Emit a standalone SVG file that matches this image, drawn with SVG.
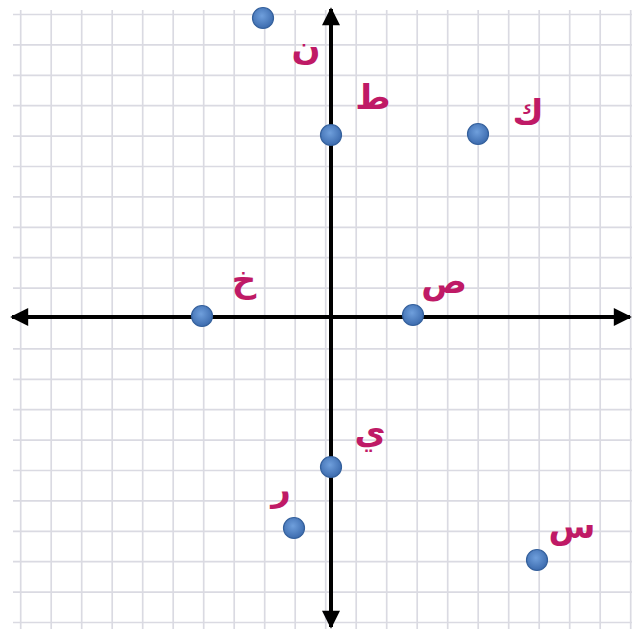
<svg xmlns="http://www.w3.org/2000/svg" width="632" height="629" viewBox="0 0 632 629">
<defs>
<style>
.grid line{stroke:#dadae2;stroke-width:1.7}
.axis{stroke:#000;stroke-width:4;fill:none}
.pt{fill:url(#pg);stroke:#34609c;stroke-width:1.2}
.lbl{font-family:"DejaVu Sans",sans-serif;font-weight:bold;font-size:34px;fill:#bf1a66;text-anchor:middle}
</style>
<radialGradient id="pg" cx="0.45" cy="0.4" r="0.6">
<stop offset="0" stop-color="#6f9fdc"/>
<stop offset="1" stop-color="#3c6bae"/>
</radialGradient>
<marker id="ah" viewBox="0 0 10 10" refX="9" refY="5" markerWidth="5" markerHeight="4.5" markerUnits="strokeWidth" orient="auto-start-reverse">
<path d="M0,0 L10,5 L0,10 Z" fill="#000"/>
</marker>
</defs>
<rect width="632" height="629" fill="#fff"/>
<g class="grid">
<line x1="20.7" y1="10" x2="20.7" y2="629"/><line x1="51.2" y1="10" x2="51.2" y2="629"/><line x1="81.7" y1="10" x2="81.7" y2="629"/><line x1="112.2" y1="10" x2="112.2" y2="629"/><line x1="142.7" y1="10" x2="142.7" y2="629"/><line x1="173.2" y1="10" x2="173.2" y2="629"/><line x1="203.7" y1="10" x2="203.7" y2="629"/><line x1="234.2" y1="10" x2="234.2" y2="629"/><line x1="264.7" y1="10" x2="264.7" y2="629"/><line x1="295.2" y1="10" x2="295.2" y2="629"/><line x1="325.7" y1="10" x2="325.7" y2="629"/><line x1="356.2" y1="10" x2="356.2" y2="629"/><line x1="386.7" y1="10" x2="386.7" y2="629"/><line x1="417.2" y1="10" x2="417.2" y2="629"/><line x1="447.7" y1="10" x2="447.7" y2="629"/><line x1="478.2" y1="10" x2="478.2" y2="629"/><line x1="508.7" y1="10" x2="508.7" y2="629"/><line x1="539.2" y1="10" x2="539.2" y2="629"/><line x1="569.7" y1="10" x2="569.7" y2="629"/><line x1="600.2" y1="10" x2="600.2" y2="629"/><line x1="630.7" y1="10" x2="630.7" y2="629"/>
<line x1="13" y1="14.5" x2="632" y2="14.5"/><line x1="13" y1="44.9" x2="632" y2="44.9"/><line x1="13" y1="75.3" x2="632" y2="75.3"/><line x1="13" y1="105.7" x2="632" y2="105.7"/><line x1="13" y1="136.1" x2="632" y2="136.1"/><line x1="13" y1="166.5" x2="632" y2="166.5"/><line x1="13" y1="196.9" x2="632" y2="196.9"/><line x1="13" y1="227.3" x2="632" y2="227.3"/><line x1="13" y1="257.7" x2="632" y2="257.7"/><line x1="13" y1="288.1" x2="632" y2="288.1"/><line x1="13" y1="348.9" x2="632" y2="348.9"/><line x1="13" y1="379.3" x2="632" y2="379.3"/><line x1="13" y1="409.7" x2="632" y2="409.7"/><line x1="13" y1="440.1" x2="632" y2="440.1"/><line x1="13" y1="470.5" x2="632" y2="470.5"/><line x1="13" y1="500.9" x2="632" y2="500.9"/><line x1="13" y1="531.3" x2="632" y2="531.3"/><line x1="13" y1="561.7" x2="632" y2="561.7"/><line x1="13" y1="592.1" x2="632" y2="592.1"/><line x1="13" y1="622.5" x2="632" y2="622.5"/>
</g>
<g id="connectors">
<line class="axis" x1="12" y1="317" x2="630" y2="317" marker-start="url(#ah)" marker-end="url(#ah)"/>
<line class="axis" x1="331" y1="9" x2="331" y2="627" marker-start="url(#ah)" marker-end="url(#ah)"/>
</g>
<g id="node-n"><circle class="pt" cx="263" cy="18" r="10.5"/><text class="lbl" x="306" y="59">ن</text></g>
<g id="node-t"><circle class="pt" cx="331" cy="135" r="10.5"/><text class="lbl" x="373" y="109">ط</text></g>
<g id="node-k"><circle class="pt" cx="478" cy="134" r="10.5"/><text class="lbl" x="528" y="124">ك</text></g>
<g id="node-kh"><circle class="pt" cx="202" cy="316" r="10.5"/><text class="lbl" x="244" y="292">خ</text></g>
<g id="node-s"><circle class="pt" cx="413" cy="315" r="10.5"/><text class="lbl" x="444" y="293">ص</text></g>
<g id="node-y"><circle class="pt" cx="331" cy="467" r="10.5"/><text class="lbl" x="370" y="444">ي</text></g>
<g id="node-r"><circle class="pt" cx="294" cy="528" r="10.5"/><text class="lbl" x="281" y="501">ر</text></g>
<g id="node-sin"><circle class="pt" cx="537" cy="560" r="10.5"/><text class="lbl" x="572" y="538">س</text></g>
</svg>
